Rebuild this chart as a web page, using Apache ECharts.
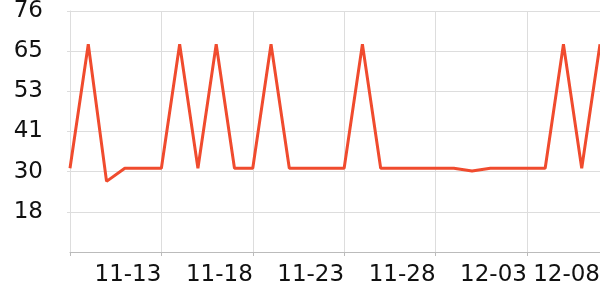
<!DOCTYPE html>
<html>
<head>
<meta charset="utf-8">
<script src="https://cdn.jsdelivr.net/npm/echarts@6/dist/echarts.min.js"></script>
<style>html,body{margin:0;padding:0;background:#fff}#c{width:600px;height:300px}</style>
</head>
<body>
<div id="c"></div>
<script>
const categories = ['11-08','11-09','11-10','11-11','11-12','11-13','11-14','11-15','11-16','11-17',
  '11-18','11-19','11-20','11-21','11-22','11-23','11-24','11-25','11-26','11-27',
  '11-28','11-29','11-30','12-01','12-02','12-03','12-05','12-06','12-07','12-08'];
const values = [30.8,66.6,27,30.8,30.8,30.8,66.6,30.8,66.6,30.8,
  30.8,66.6,30.8,30.8,30.8,30.8,66.6,30.8,30.8,30.8,
  30.8,30.8,30,30.8,30.8,30.8,30.8,66.6,30.8,66.6];
const yMin = 6.6, yMax = 76.2, yStep = 11.6;

const chart = echarts.init(document.getElementById('c'), null, {renderer:'canvas'});
const font = 'DejaVu Sans';
chart.setOption({
  animation:false,
  backgroundColor:'#fff',
  grid:{left:70,right:0,top:11,bottom:48,containLabel:false,outerBoundsMode:'none'},
  xAxis:{
    type:'category',data:categories,boundaryGap:false,
    axisLine:{show:true,lineStyle:{color:'#bbb',width:1}},
    axisTick:{show:true,interval:4,length:4,lineStyle:{color:'#bbb'}},
    splitLine:{show:true,interval:4,lineStyle:{color:'#ddd',width:1}},
    axisLabel:{
      interval:function(i){return (i>0 && i%5===0) || i===categories.length-1;},
      align:'right',margin:12,fontFamily:font,fontSize:23,color:'#111'
    }
  },
  yAxis:{
    type:'value',min:yMin,max:yMax,interval:yStep,
    axisLine:{show:true,lineStyle:{color:'#ddd'}},
    axisTick:{show:true,length:3,lineStyle:{color:'#ddd'}},
    splitLine:{show:true,lineStyle:{color:'#ddd',width:1}},
    axisLabel:{showMinLabel:false,margin:27,fontFamily:font,fontSize:23,color:'#111',
      formatter:function(v){return String(Math.round(v));}}
  },
  series:[{type:'line',data:values,symbol:'none',
    lineStyle:{color:'#f04b2e',width:3},itemStyle:{color:'#f04b2e'}}]
});
</script>
</body>
</html>
